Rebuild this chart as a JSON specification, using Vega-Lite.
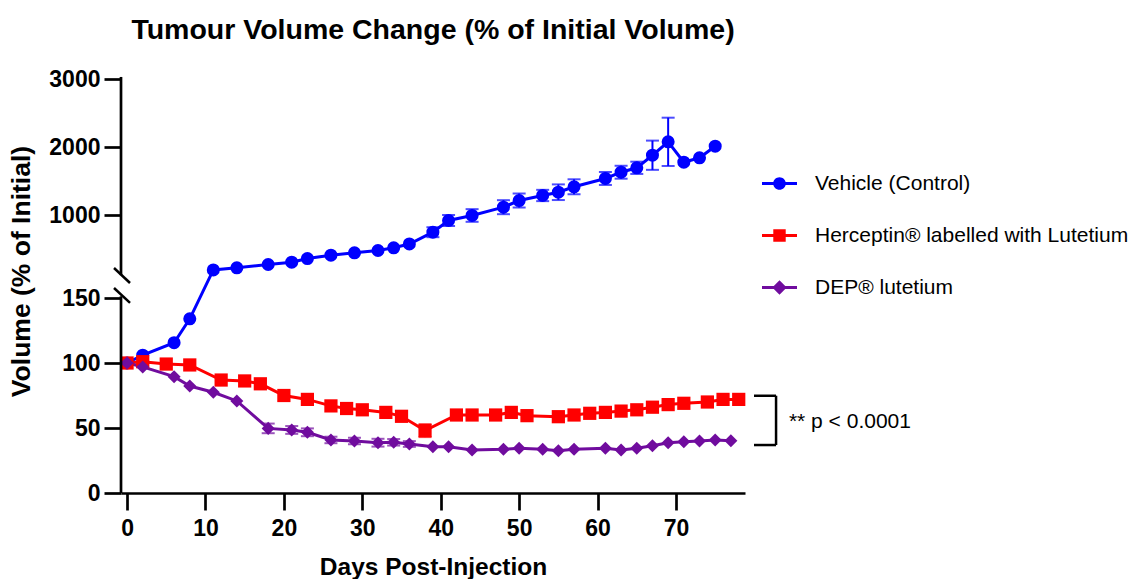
{
  "$schema": "https://vega.github.io/schema/vega-lite/v6.json",
  "autosize": {"type": "none"},
  "padding": {"left": 121, "top": 79, "right": 395, "bottom": 86},
  "width": 624,
  "height": 414,
  "title": {"text": "Tumour Volume Change (% of Initial Volume)", "font": "Liberation Sans", "fontSize": 28.5, "fontWeight": "bold", "color": "black", "anchor": "middle", "frame": "group", "offset": 24},
  "data": {"values": [
    {"group": "Vehicle (Control)", "day": 0, "value": 100},
    {"group": "Vehicle (Control)", "day": 2, "value": 106},
    {"group": "Vehicle (Control)", "day": 6, "value": 115.6},
    {"group": "Vehicle (Control)", "day": 8, "value": 134},
    {"group": "Vehicle (Control)", "day": 11, "value": 199},
    {"group": "Vehicle (Control)", "day": 14, "value": 224},
    {"group": "Vehicle (Control)", "day": 18, "value": 272},
    {"group": "Vehicle (Control)", "day": 21, "value": 306},
    {"group": "Vehicle (Control)", "day": 23, "value": 360},
    {"group": "Vehicle (Control)", "day": 26, "value": 409},
    {"group": "Vehicle (Control)", "day": 29, "value": 444},
    {"group": "Vehicle (Control)", "day": 32, "value": 478},
    {"group": "Vehicle (Control)", "day": 34, "value": 518},
    {"group": "Vehicle (Control)", "day": 36, "value": 574},
    {"group": "Vehicle (Control)", "day": 39, "value": 747, "lo": 674, "hi": 820},
    {"group": "Vehicle (Control)", "day": 41, "value": 919, "lo": 838, "hi": 1000},
    {"group": "Vehicle (Control)", "day": 44, "value": 993, "lo": 900, "hi": 1086},
    {"group": "Vehicle (Control)", "day": 48, "value": 1115, "lo": 1012, "hi": 1218},
    {"group": "Vehicle (Control)", "day": 50, "value": 1213, "lo": 1110, "hi": 1316},
    {"group": "Vehicle (Control)", "day": 53, "value": 1287, "lo": 1204, "hi": 1370},
    {"group": "Vehicle (Control)", "day": 55, "value": 1335, "lo": 1220, "hi": 1450},
    {"group": "Vehicle (Control)", "day": 57, "value": 1415, "lo": 1305, "hi": 1525},
    {"group": "Vehicle (Control)", "day": 61, "value": 1537, "lo": 1442, "hi": 1632},
    {"group": "Vehicle (Control)", "day": 63, "value": 1629, "lo": 1534, "hi": 1724},
    {"group": "Vehicle (Control)", "day": 65, "value": 1694, "lo": 1604, "hi": 1784},
    {"group": "Vehicle (Control)", "day": 67, "value": 1879, "lo": 1664, "hi": 2094},
    {"group": "Vehicle (Control)", "day": 69, "value": 2076, "lo": 1721, "hi": 2431},
    {"group": "Vehicle (Control)", "day": 71, "value": 1776},
    {"group": "Vehicle (Control)", "day": 73, "value": 1841},
    {"group": "Vehicle (Control)", "day": 75, "value": 2012},
    {"group": "Herceptin® labelled with Lutetium", "day": 0, "value": 100},
    {"group": "Herceptin® labelled with Lutetium", "day": 2, "value": 101},
    {"group": "Herceptin® labelled with Lutetium", "day": 5, "value": 99.2},
    {"group": "Herceptin® labelled with Lutetium", "day": 8, "value": 98.5},
    {"group": "Herceptin® labelled with Lutetium", "day": 12, "value": 86.9},
    {"group": "Herceptin® labelled with Lutetium", "day": 15, "value": 86.2},
    {"group": "Herceptin® labelled with Lutetium", "day": 17, "value": 84},
    {"group": "Herceptin® labelled with Lutetium", "day": 20, "value": 75},
    {"group": "Herceptin® labelled with Lutetium", "day": 23, "value": 72},
    {"group": "Herceptin® labelled with Lutetium", "day": 26, "value": 67},
    {"group": "Herceptin® labelled with Lutetium", "day": 28, "value": 65},
    {"group": "Herceptin® labelled with Lutetium", "day": 30, "value": 64},
    {"group": "Herceptin® labelled with Lutetium", "day": 33, "value": 62},
    {"group": "Herceptin® labelled with Lutetium", "day": 35, "value": 59},
    {"group": "Herceptin® labelled with Lutetium", "day": 38, "value": 48, "lo": 43, "hi": 53},
    {"group": "Herceptin® labelled with Lutetium", "day": 42, "value": 60},
    {"group": "Herceptin® labelled with Lutetium", "day": 44, "value": 60},
    {"group": "Herceptin® labelled with Lutetium", "day": 47, "value": 60},
    {"group": "Herceptin® labelled with Lutetium", "day": 49, "value": 62},
    {"group": "Herceptin® labelled with Lutetium", "day": 51, "value": 59.5},
    {"group": "Herceptin® labelled with Lutetium", "day": 55, "value": 58.7},
    {"group": "Herceptin® labelled with Lutetium", "day": 57, "value": 60},
    {"group": "Herceptin® labelled with Lutetium", "day": 59, "value": 61.3},
    {"group": "Herceptin® labelled with Lutetium", "day": 61, "value": 62},
    {"group": "Herceptin® labelled with Lutetium", "day": 63, "value": 63},
    {"group": "Herceptin® labelled with Lutetium", "day": 65, "value": 64},
    {"group": "Herceptin® labelled with Lutetium", "day": 67, "value": 66},
    {"group": "Herceptin® labelled with Lutetium", "day": 69, "value": 68},
    {"group": "Herceptin® labelled with Lutetium", "day": 71, "value": 69},
    {"group": "Herceptin® labelled with Lutetium", "day": 74, "value": 70},
    {"group": "Herceptin® labelled with Lutetium", "day": 76, "value": 72},
    {"group": "Herceptin® labelled with Lutetium", "day": 78, "value": 72},
    {"group": "DEP® lutetium", "day": 0, "value": 100},
    {"group": "DEP® lutetium", "day": 2, "value": 97},
    {"group": "DEP® lutetium", "day": 6, "value": 89.5},
    {"group": "DEP® lutetium", "day": 8, "value": 82.3},
    {"group": "DEP® lutetium", "day": 11, "value": 77.5},
    {"group": "DEP® lutetium", "day": 14, "value": 70.8},
    {"group": "DEP® lutetium", "day": 18, "value": 49.7, "lo": 46, "hi": 53.4},
    {"group": "DEP® lutetium", "day": 21, "value": 48.5, "lo": 45.5, "hi": 51.5},
    {"group": "DEP® lutetium", "day": 23, "value": 46.7, "lo": 43.7, "hi": 49.7},
    {"group": "DEP® lutetium", "day": 26, "value": 40.8, "lo": 38.3, "hi": 43.3},
    {"group": "DEP® lutetium", "day": 29, "value": 40, "lo": 37.5, "hi": 42.5},
    {"group": "DEP® lutetium", "day": 32, "value": 38.7, "lo": 35.7, "hi": 41.7},
    {"group": "DEP® lutetium", "day": 34, "value": 39, "lo": 36.5, "hi": 41.5},
    {"group": "DEP® lutetium", "day": 36, "value": 37.7, "lo": 35.5, "hi": 39.9},
    {"group": "DEP® lutetium", "day": 39, "value": 35.6},
    {"group": "DEP® lutetium", "day": 41, "value": 35.6},
    {"group": "DEP® lutetium", "day": 44, "value": 33.1},
    {"group": "DEP® lutetium", "day": 48, "value": 33.6},
    {"group": "DEP® lutetium", "day": 50, "value": 34.4},
    {"group": "DEP® lutetium", "day": 53, "value": 33.6},
    {"group": "DEP® lutetium", "day": 55, "value": 32.5},
    {"group": "DEP® lutetium", "day": 57, "value": 33.6},
    {"group": "DEP® lutetium", "day": 61, "value": 34.4},
    {"group": "DEP® lutetium", "day": 63, "value": 33.1},
    {"group": "DEP® lutetium", "day": 65, "value": 34.4},
    {"group": "DEP® lutetium", "day": 67, "value": 36.4},
    {"group": "DEP® lutetium", "day": 69, "value": 38.7},
    {"group": "DEP® lutetium", "day": 71, "value": 39.5},
    {"group": "DEP® lutetium", "day": 73, "value": 40},
    {"group": "DEP® lutetium", "day": 75, "value": 40.8},
    {"group": "DEP® lutetium", "day": 77, "value": 40.2}
  ]},
  "layer": [
    {
      "transform": [{"filter": "false"}],
      "mark": {"type": "point", "filled": true, "opacity": 1},
      "encoding": {
        "x": {"field": "day", "type": "quantitative", "scale": {"domain": [-0.77, 78.8], "nice": false, "zero": false}, "title": "Days Post-Injection"},
        "y": {"field": "value", "type": "quantitative", "scale": {"domain": [0, 150, 200, 3000], "range": [414, 219, 190.4, 0], "nice": false, "zero": false}, "title": "Volume (% of Initial)"},
        "color": {"field": "group", "type": "nominal", "scale": {"domain": ["Vehicle (Control)", "Herceptin® labelled with Lutetium", "DEP® lutetium"], "range": ["#0000FF", "#FF0000", "#700C9E"]},
          "legend": {"orient": "none", "legendX": 641, "legendY": 87, "direction": "vertical", "title": null, "symbolSize": 1225, "symbolStrokeWidth": 0, "symbolOpacity": 1, "labelFont": "Liberation Sans", "labelFontSize": 21, "labelColor": "black", "labelOffset": 18, "rowPadding": 24, "labelLimit": 500,
            "encode": {"symbols": {"update": {"opacity": {"value": 1}, "fillOpacity": {"value": 1}}}}}},
        "shape": {"field": "group", "type": "nominal", "scale": {"domain": ["Vehicle (Control)", "Herceptin® labelled with Lutetium", "DEP® lutetium"], "range": [
            "M-1,-0.08H1V0.08H-1Z M0.36,0A0.36,0.36,0,1,1,-0.36,0A0.36,0.36,0,1,1,0.36,0Z",
            "M-1,-0.08H1V0.08H-1Z M-0.355,-0.355H0.355V0.355H-0.355Z",
            "M-1,-0.08H1V0.08H-1Z M0,-0.41L0.41,0L0,0.41L-0.41,0Z"]},
          "legend": {"orient": "none", "legendX": 641, "legendY": 87, "direction": "vertical", "title": null, "symbolSize": 1225, "symbolStrokeWidth": 0, "symbolOpacity": 1, "labelFont": "Liberation Sans", "labelFontSize": 21, "labelColor": "black", "labelOffset": 18, "rowPadding": 24, "labelLimit": 500,
            "encode": {"symbols": {"update": {"opacity": {"value": 1}, "fillOpacity": {"value": 1}}}}}}
      }
    },
    {
      "transform": [{"filter": "isValid(datum.lo)"}],
      "mark": {"type": "errorbar", "ticks": {"size": 13, "thickness": 2}, "rule": {"strokeWidth": 2}},
      "encoding": {
        "x": {"field": "day", "type": "quantitative", "scale": {"domain": [-0.77, 78.8], "nice": false, "zero": false}, "title": "Days Post-Injection"},
        "y": {"field": "lo", "type": "quantitative", "scale": {"domain": [0, 150, 200, 3000], "range": [414, 219, 190.4, 0], "nice": false, "zero": false}, "title": "Volume (% of Initial)"},
        "y2": {"field": "hi"},
        "color": {"field": "group", "type": "nominal", "scale": {"domain": ["Vehicle (Control)", "Herceptin® labelled with Lutetium", "DEP® lutetium"], "range": ["#0000FF", "#FF0000", "#700C9E"]}}
      }
    },
    {
      "mark": {"type": "line", "strokeWidth": 3},
      "encoding": {
        "x": {"field": "day", "type": "quantitative", "scale": {"domain": [-0.77, 78.8], "nice": false, "zero": false}, "title": "Days Post-Injection",
          "axis": {"values": [0, 10, 20, 30, 40, 50, 60, 70], "labelPadding": 7, "titlePadding": 15, "labelFlush": false}},
        "y": {"field": "value", "type": "quantitative", "scale": {"domain": [0, 150, 200, 3000], "range": [414, 219, 190.4, 0], "nice": false, "zero": false}, "title": "Volume (% of Initial)",
          "axis": {"values": [0, 50, 100, 150, 1000, 2000, 3000], "format": "d", "domain": false, "labelPadding": 4, "titlePadding": 13, "titleFontSize": 26.5, "titleY": 192}},
        "color": {"field": "group", "type": "nominal", "scale": {"domain": ["Vehicle (Control)", "Herceptin® labelled with Lutetium", "DEP® lutetium"], "range": ["#0000FF", "#FF0000", "#700C9E"]}}
      }
    },
    {
      "transform": [{"filter": "datum.group === 'Vehicle (Control)'"}],
      "mark": {"type": "point", "shape": "circle", "filled": true, "size": 170, "opacity": 1},
      "encoding": {
        "x": {"field": "day", "type": "quantitative", "scale": {"domain": [-0.77, 78.8], "nice": false, "zero": false}, "title": "Days Post-Injection"},
        "y": {"field": "value", "type": "quantitative", "scale": {"domain": [0, 150, 200, 3000], "range": [414, 219, 190.4, 0], "nice": false, "zero": false}, "title": "Volume (% of Initial)"},
        "color": {"field": "group", "type": "nominal", "scale": {"domain": ["Vehicle (Control)", "Herceptin® labelled with Lutetium", "DEP® lutetium"], "range": ["#0000FF", "#FF0000", "#700C9E"]}}
      }
    },
    {
      "transform": [{"filter": "datum.group === 'Herceptin® labelled with Lutetium'"}],
      "mark": {"type": "point", "shape": "square", "filled": true, "size": 175, "opacity": 1},
      "encoding": {
        "x": {"field": "day", "type": "quantitative", "scale": {"domain": [-0.77, 78.8], "nice": false, "zero": false}, "title": "Days Post-Injection"},
        "y": {"field": "value", "type": "quantitative", "scale": {"domain": [0, 150, 200, 3000], "range": [414, 219, 190.4, 0], "nice": false, "zero": false}, "title": "Volume (% of Initial)"},
        "color": {"field": "group", "type": "nominal", "scale": {"domain": ["Vehicle (Control)", "Herceptin® labelled with Lutetium", "DEP® lutetium"], "range": ["#0000FF", "#FF0000", "#700C9E"]}}
      }
    },
    {
      "transform": [{"filter": "datum.group === 'DEP® lutetium'"}],
      "mark": {"type": "point", "shape": "diamond", "filled": true, "size": 170, "opacity": 1},
      "encoding": {
        "x": {"field": "day", "type": "quantitative", "scale": {"domain": [-0.77, 78.8], "nice": false, "zero": false}, "title": "Days Post-Injection"},
        "y": {"field": "value", "type": "quantitative", "scale": {"domain": [0, 150, 200, 3000], "range": [414, 219, 190.4, 0], "nice": false, "zero": false}, "title": "Volume (% of Initial)"},
        "color": {"field": "group", "type": "nominal", "scale": {"domain": ["Vehicle (Control)", "Herceptin® labelled with Lutetium", "DEP® lutetium"], "range": ["#0000FF", "#FF0000", "#700C9E"]}}
      }
    },
    {
      "data": {"values": [{}]},
      "mark": {"type": "rule", "strokeWidth": 2.7, "color": "black"},
      "encoding": {"x": {"datum": -0.77, "type": "quantitative"}, "y": {"datum": 0, "type": "quantitative"}, "y2": {"datum": 153}}
    },
    {
      "data": {"values": [{}]},
      "mark": {"type": "rule", "strokeWidth": 2.7, "color": "black"},
      "encoding": {"x": {"datum": -0.77, "type": "quantitative"}, "y": {"datum": 190, "type": "quantitative"}, "y2": {"datum": 3030}}
    },
    {
      "data": {"values": [{}]},
      "mark": {"type": "rule", "strokeWidth": 2.5, "color": "black"},
      "encoding": {"x": {"datum": -1.66, "type": "quantitative"}, "x2": {"datum": 0.38}, "y": {"datum": 221, "type": "quantitative"}, "y2": {"datum": 176.2}}
    },
    {
      "data": {"values": [{}]},
      "mark": {"type": "rule", "strokeWidth": 2.5, "color": "black"},
      "encoding": {"x": {"datum": -1.66, "type": "quantitative"}, "x2": {"datum": 0.38}, "y": {"datum": 167.5, "type": "quantitative"}, "y2": {"datum": 146.2}}
    },
    {
      "data": {"values": [{}]},
      "mark": {"type": "rule", "strokeWidth": 2.5, "color": "black"},
      "encoding": {"x": {"datum": 79.95, "type": "quantitative"}, "x2": {"datum": 82.76}, "y": {"datum": 74.8, "type": "quantitative"}}
    },
    {
      "data": {"values": [{}]},
      "mark": {"type": "rule", "strokeWidth": 2.5, "color": "black"},
      "encoding": {"x": {"datum": 79.95, "type": "quantitative"}, "x2": {"datum": 82.76}, "y": {"datum": 36.9, "type": "quantitative"}}
    },
    {
      "data": {"values": [{}]},
      "mark": {"type": "rule", "strokeWidth": 2.5, "color": "black"},
      "encoding": {"x": {"datum": 82.76, "type": "quantitative"}, "y": {"datum": 36.9, "type": "quantitative"}, "y2": {"datum": 74.8}}
    },
    {
      "data": {"values": [{}]},
      "mark": {"type": "text", "font": "Liberation Sans", "fontSize": 21, "color": "black", "align": "left", "baseline": "middle"},
      "encoding": {"x": {"datum": 84.4, "type": "quantitative"}, "y": {"datum": 54.8, "type": "quantitative"}, "text": {"value": "** p < 0.0001"}}
    }
  ],
  "config": {
    "view": {"stroke": null},
    "axis": {"grid": false, "domainColor": "black", "tickColor": "black", "labelColor": "black", "titleColor": "black", "labelFont": "Liberation Sans", "titleFont": "Liberation Sans", "labelFontWeight": "bold", "titleFontWeight": "bold", "labelFontSize": 23, "titleFontSize": 24.5, "tickSize": 17, "tickWidth": 2.7, "domainWidth": 2.7}
  }
}
